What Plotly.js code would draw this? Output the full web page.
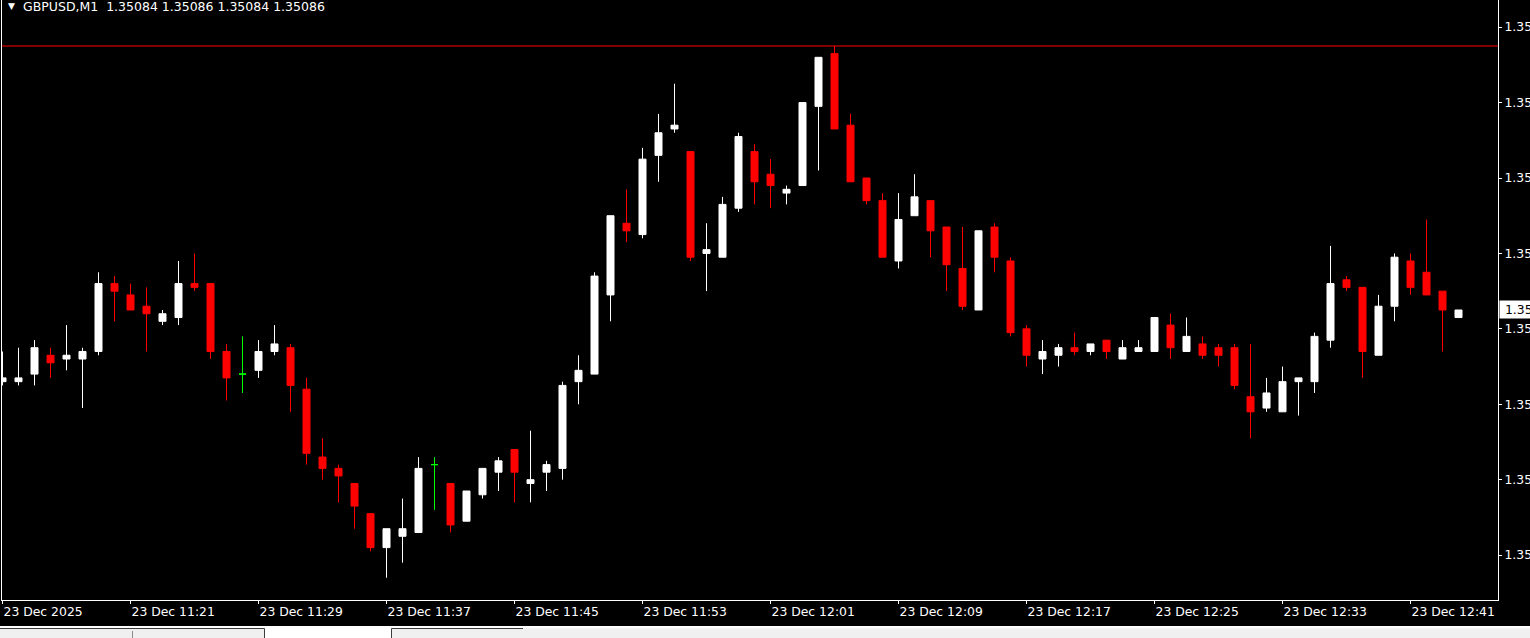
<!DOCTYPE html>
<html>
<head>
<meta charset="utf-8">
<script src="https://cdn.plot.ly/plotly-3.0.1.min.js"></script>
<style>
html,body{margin:0;padding:0;background:#000;overflow:hidden;}
#chart{width:1530px;height:638px;}
</style>
</head>
<body>
<div id="chart"></div>
<script>
// ---------- data ----------
const symbol = "GBPUSD,M1";
const day = "2025-12-23";
const times = [
"11:13","11:14","11:15","11:16","11:17","11:18","11:19","11:20","11:21","11:22",
"11:23","11:24","11:25","11:26","11:27","11:28","11:29","11:30","11:31","11:32",
"11:33","11:34","11:35","11:36","11:37","11:38","11:39","11:40","11:41","11:42",
"11:43","11:44","11:45","11:46","11:47","11:48","11:49","11:50","11:51","11:52",
"11:53","11:54","11:55","11:56","11:57","11:58","11:59","12:00","12:01","12:02",
"12:03","12:04","12:05","12:06","12:07","12:08","12:09","12:10","12:11","12:12",
"12:13","12:14","12:15","12:16","12:17","12:18","12:19","12:20","12:21","12:22",
"12:23","12:24","12:25","12:26","12:27","12:28","12:29","12:30","12:31","12:32",
"12:33","12:34","12:35","12:36","12:37","12:38","12:39","12:40","12:41","12:42",
"12:43","12:44"];
const open = [
1.35067,1.35067,1.35069,1.35074,1.35073,1.35073,1.35075,1.35093,1.35090,1.35087,
1.35083,1.35084,1.35093,1.35093,1.35075,1.35069,1.35070,1.35075,1.35076,1.35065,
1.35047,1.35044,1.35040,1.35032,1.35023,1.35026,1.35027,1.35045,1.35040,1.35030,
1.35037,1.35043,1.35049,1.35040,1.35043,1.35044,1.35067,1.35069,1.35090,1.35109,
1.35106,1.35127,1.35134,1.35128,1.35101,1.35100,1.35113,1.35128,1.35122,1.35117,
1.35119,1.35140,1.35154,1.35135,1.35121,1.35115,1.35099,1.35111,1.35115,1.35108,
1.35097,1.35086,1.35108,1.35099,1.35081,1.35073,1.35074,1.35076,1.35075,1.35078,
1.35073,1.35075,1.35075,1.35082,1.35075,1.35077,1.35076,1.35076,1.35063,1.35060,
1.35059,1.35067,1.35067,1.35078,1.35094,1.35092,1.35074,1.35087,1.35099,1.35096,
1.35091,1.35084];
const high = [
1.35075,1.35076,1.35078,1.35076,1.35082,1.35076,1.35096,1.35095,1.35093,1.35092,
1.35086,1.35099,1.35101,1.35093,1.35077,1.35079,1.35078,1.35082,1.35077,1.35068,
1.35052,1.35045,1.35040,1.35032,1.35028,1.35036,1.35047,1.35047,1.35040,1.35038,
1.35044,1.35047,1.35049,1.35054,1.35046,1.35067,1.35074,1.35096,1.35111,1.35118,
1.35129,1.35138,1.35146,1.35128,1.35109,1.35116,1.35133,1.35130,1.35126,1.35119,
1.35141,1.35153,1.35156,1.35138,1.35121,1.35117,1.35117,1.35122,1.35115,1.35108,
1.35108,1.35107,1.35109,1.35100,1.35082,1.35078,1.35077,1.35080,1.35077,1.35078,
1.35078,1.35078,1.35084,1.35085,1.35084,1.35079,1.35077,1.35077,1.35077,1.35068,
1.35071,1.35068,1.35080,1.35103,1.35095,1.35092,1.35090,1.35101,1.35101,1.35110,
1.35091,1.35086];
const low = [
1.35066,1.35066,1.35066,1.35068,1.35070,1.35060,1.35074,1.35083,1.35086,1.35075,
1.35082,1.35082,1.35091,1.35073,1.35062,1.35064,1.35068,1.35074,1.35059,1.35045,
1.35041,1.35035,1.35028,1.35022,1.35015,1.35019,1.35027,1.35033,1.35027,1.35030,
1.35036,1.35038,1.35035,1.35035,1.35038,1.35041,1.35061,1.35069,1.35083,1.35104,
1.35105,1.35120,1.35133,1.35099,1.35091,1.35100,1.35112,1.35114,1.35113,1.35114,
1.35119,1.35123,1.35134,1.35120,1.35114,1.35100,1.35097,1.35111,1.35100,1.35091,
1.35086,1.35086,1.35096,1.35079,1.35071,1.35069,1.35071,1.35074,1.35074,1.35073,
1.35073,1.35075,1.35075,1.35073,1.35075,1.35073,1.35071,1.35065,1.35052,1.35059,
1.35059,1.35058,1.35064,1.35076,1.35091,1.35068,1.35074,1.35083,1.35090,1.35090,
1.35075,1.35084];
const close = [
1.35068,1.35068,1.35076,1.35072,1.35074,1.35075,1.35093,1.35091,1.35086,1.35085,
1.35085,1.35093,1.35092,1.35075,1.35068,1.35069,1.35075,1.35077,1.35066,1.35048,
1.35044,1.35042,1.35034,1.35023,1.35028,1.35028,1.35044,1.35045,1.35029,1.35038,
1.35044,1.35046,1.35043,1.35041,1.35045,1.35066,1.35070,1.35095,1.35111,1.35107,
1.35126,1.35133,1.35135,1.35100,1.35102,1.35114,1.35132,1.35120,1.35119,1.35118,
1.35141,1.35153,1.35134,1.35120,1.35115,1.35100,1.35110,1.35116,1.35107,1.35098,
1.35087,1.35107,1.35100,1.35080,1.35074,1.35075,1.35076,1.35075,1.35077,1.35075,
1.35076,1.35076,1.35084,1.35076,1.35079,1.35074,1.35074,1.35066,1.35059,1.35064,
1.35067,1.35068,1.35079,1.35093,1.35092,1.35075,1.35087,1.35100,1.35092,1.35090,
1.35086,1.35086];

const timeTicks = ["11:13","11:21","11:29","11:37","11:45","11:53","12:01","12:09","12:17","12:25","12:33","12:41"];
const timeTickText = ["23 Dec 2025","23 Dec 11:21","23 Dec 11:29","23 Dec 11:37","23 Dec 11:45","23 Dec 11:53",
                      "23 Dec 12:01","23 Dec 12:09","23 Dec 12:17","23 Dec 12:25","23 Dec 12:33","23 Dec 12:41"];
const priceTicks = [1.35021,1.35041,1.35061,1.35081,1.35101,1.35121,1.35141,1.35161];
const highLine = 1.35156;
const xRange = ["11:12:58.125","12:46:28.125"];
const yRange = [1.350091, 1.351682];

// ---------- build ----------
const W = 1530, H = 638;
const M = {l:2, r:32, t:0, b:38};
const plotW = W - M.l - M.r, plotH = H - M.t - M.b;
const px2x = px => (px - M.l) / plotW;
const py2y = py => (plotH + M.t - py) / plotH;

const X = times.map(t => day + " " + t);
const main = {x:[],open:[],high:[],low:[],close:[]};
const doji = {x:[],open:[],high:[],low:[],close:[]};
X.forEach((xv,i) => {
  const tgt = (open[i] === close[i]) ? doji : main;
  tgt.x.push(xv); tgt.open.push(open[i]); tgt.high.push(high[i]);
  tgt.low.push(low[i]); tgt.close.push(close[i]);
});

const WHITE = "#ffffff", RED = "#ff0000", GREEN = "#00ff00";
const traces = [
  Object.assign({type:"candlestick", name:symbol, whiskerwidth:0,
    increasing:{line:{color:WHITE,width:1}, fillcolor:WHITE},
    decreasing:{line:{color:RED,width:1}, fillcolor:RED},
    hoverinfo:"skip"}, main),
  Object.assign({type:"candlestick", name:"doji", whiskerwidth:0,
    increasing:{line:{color:GREEN,width:1}, fillcolor:GREEN},
    decreasing:{line:{color:GREEN,width:1}, fillcolor:GREEN},
    hoverinfo:"skip"}, doji)
];

const FONT = "DejaVu Sans";
const n = open.length - 1;
const fmt = v => v.toFixed(5);
const header = symbol + "\u00a0\u00a0" + [open[n],high[n],low[n],close[n]].map(fmt).join(" ");

const shapes = [
  {type:"line", xref:"paper", yref:"y", x0:0, x1:1, y0:highLine, y1:highLine,
   line:{color:RED, width:1}},
  // terminal tab strip under the chart
  {type:"rect", xref:"paper", yref:"paper", x0:px2x(0), x1:px2x(1530), y0:py2y(626), y1:py2y(638),
   fillcolor:"#f0f0f0", line:{width:0}, layer:"above"},
  {type:"rect", xref:"paper", yref:"paper", x0:px2x(0), x1:px2x(1530), y0:py2y(626), y1:py2y(628),
   fillcolor:"#ffffff", line:{width:0}, layer:"above"},
  {type:"rect", xref:"paper", yref:"paper", x0:px2x(265), x1:px2x(391), y0:py2y(626), y1:py2y(638),
   fillcolor:"#ffffff", line:{width:0}, layer:"above"},
  {type:"line", xref:"paper", yref:"paper", x0:px2x(0), x1:px2x(264.5), y0:py2y(628.5), y1:py2y(628.5),
   line:{color:"#3c3c3c", width:1}, layer:"above"},
  {type:"line", xref:"paper", yref:"paper", x0:px2x(391.5), x1:px2x(523), y0:py2y(628.5), y1:py2y(628.5),
   line:{color:"#3c3c3c", width:1}, layer:"above"},
  {type:"line", xref:"paper", yref:"paper", x0:px2x(132.5), x1:px2x(132.5), y0:py2y(631), y1:py2y(638),
   line:{color:"#8a8a8a", width:1}, layer:"above"},
  {type:"line", xref:"paper", yref:"paper", x0:px2x(264.5), x1:px2x(264.5), y0:py2y(628.5), y1:py2y(638),
   line:{color:"#3c3c3c", width:1}, layer:"above"},
  {type:"line", xref:"paper", yref:"paper", x0:px2x(391.5), x1:px2x(391.5), y0:py2y(628.5), y1:py2y(638),
   line:{color:"#3c3c3c", width:1}, layer:"above"}
];

const annotations = [
  {xref:"paper", yref:"paper", x:px2x(6), y:1, xanchor:"left", yanchor:"top", yshift:1,
   text:"\u25BC", showarrow:false, font:{family:FONT, size:9, color:WHITE}},
  {xref:"paper", yref:"paper", x:px2x(21), y:1, xanchor:"left", yanchor:"top", yshift:3,
   text:header, showarrow:false, font:{family:FONT, size:12.5, color:WHITE}},
  {xref:"paper", yref:"y", x:1, y:close[n], xanchor:"left", yanchor:"middle", xshift:1,
   text:"\u00a0" + fmt(close[n]), showarrow:false, bgcolor:WHITE, borderpad:1,
   font:{family:FONT, size:12.4, color:"#000000"}}
];

const layout = {
  width:W, height:H, margin:M,
  paper_bgcolor:"#000000", plot_bgcolor:"#000000",
  showlegend:false, boxgap:0.375, dragmode:false,
  xaxis:{type:"date", range:xRange.map(t => day + " " + t),
    rangeslider:{visible:false}, showgrid:false, zeroline:false,
    showline:true, linecolor:WHITE, linewidth:1,
    ticks:"outside", ticklen:3, tickcolor:WHITE, tickwidth:1,
    tickmode:"array", tickvals:timeTicks.map(t => day + " " + t), ticktext:timeTickText,
    ticklabelposition:"outside right",
    tickfont:{family:FONT, size:12.4, color:WHITE}, fixedrange:true},
  yaxis:{side:"right", range:yRange, showgrid:false, zeroline:false,
    showline:true, mirror:true, linecolor:WHITE, linewidth:1,
    ticks:"outside", ticklen:3, tickcolor:WHITE, tickwidth:1,
    tickmode:"array", tickvals:priceTicks, ticktext:priceTicks.map(fmt),
    tickfont:{family:FONT, size:12.4, color:WHITE}, fixedrange:true},
  shapes:shapes, annotations:annotations
};

Plotly.newPlot("chart", traces, layout, {displayModeBar:false, staticPlot:true});
</script>
</body>
</html>
